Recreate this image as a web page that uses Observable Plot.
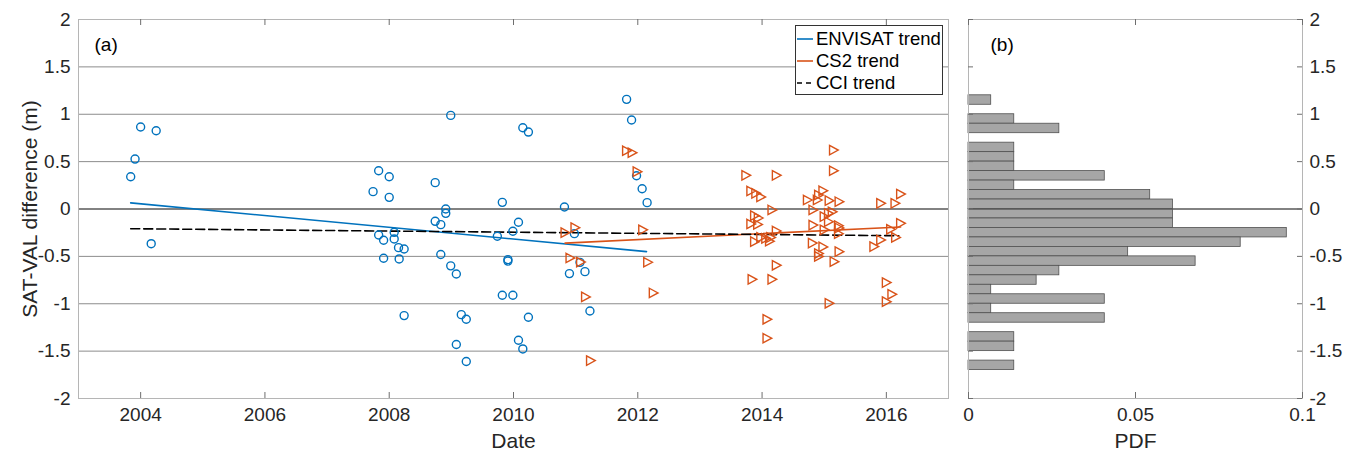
<!DOCTYPE html>
<html>
<head>
<meta charset="utf-8">
<script src="https://cdn.jsdelivr.net/npm/d3@7"></script>
<script src="https://cdn.jsdelivr.net/npm/@observablehq/plot@0.6"></script>
<style>
  body { margin: 0; background: #fff; font-family: "Liberation Sans", Arial, Helvetica, sans-serif; }
  #wrap { position: relative; width: 1359px; height: 456px; overflow: hidden; }
  #left, #right { position: absolute; top: 0; }
  #left { left: 0; }
  #right { left: 955px; }
  #legend { position: absolute; left: 795px; top: 25px; width: 148px; height: 70px; border: 1px solid #333;
            background: #fff; box-sizing: border-box; font-size: 18.5px; color: #000; }
  #legend .row { position: absolute; left: 0; height: 22px; display: flex; align-items: center; }
  #legend svg { display: block; margin-right: 2px; }
</style>
</head>
<body>
<div id="wrap">
  <div id="left"></div>
  <div id="right"></div>
  <div id="legend"></div>
</div>
<script>
// ---------------- data ----------------
const envYear = [2003.84, 2003.91, 2004.00, 2004.25, 2004.17,
  2007.74, 2007.83, 2008.00, 2008.00, 2007.83, 2007.91, 2008.08, 2008.08, 2008.15, 2008.24, 2007.91, 2008.16, 2008.24,
  2008.74, 2008.91, 2008.91, 2008.74, 2008.83, 2008.99, 2008.83, 2008.99, 2009.08, 2009.16, 2009.24, 2009.08, 2009.24,
  2009.82, 2009.74, 2009.99, 2010.08, 2010.15, 2010.24, 2009.91, 2009.91, 2009.82, 2009.99, 2010.24, 2010.08, 2010.15,
  2010.82, 2010.98, 2010.90, 2011.07, 2011.15, 2011.23,
  2011.82, 2011.90, 2011.98, 2012.07, 2012.15];
const envDiff = [0.34, 0.527, 0.865, 0.826, -0.366,
  0.183, 0.404, 0.34, 0.123, -0.274, -0.33, -0.246, -0.316, -0.408, -0.422, -0.52, -0.527, -1.125,
  0.278, 0.0, -0.046, -0.13, -0.165, 0.988, -0.48, -0.6, -0.686, -1.115, -1.164, -1.43, -1.61,
  0.07, -0.288, -0.235, -0.14, 0.858, 0.812, -0.534, -0.55, -0.91, -0.91, -1.143, -1.385, -1.477,
  0.021, -0.26, -0.682, -0.563, -0.661, -1.076,
  1.157, 0.939, 0.351, 0.214, 0.067];

const cs2Year = [2010.83, 2010.99, 2010.91, 2011.08, 2011.16, 2011.24, 2011.82, 2011.91, 2011.99, 2012.08, 2012.16, 2012.25,
  2013.74, 2014.23, 2013.82, 2013.90, 2013.98, 2014.16, 2013.88, 2013.94, 2013.82, 2013.93, 2014.23,
  2013.88, 2013.98, 2014.06, 2014.14, 2014.12, 2013.84, 2014.16, 2014.23, 2014.08, 2014.08,
  2015.15, 2015.15, 2014.98, 2014.91, 2014.73, 2014.89, 2015.08, 2015.24, 2014.82, 2015.13, 2015.07, 2015.00,
  2015.07, 2014.82, 2015.23, 2015.00, 2015.24, 2015.23, 2014.81, 2014.98, 2014.91, 2014.91, 2015.24, 2015.16, 2015.08,
  2015.91, 2016.14, 2016.23, 2016.23, 2016.07, 2016.15, 2015.91, 2015.80, 2016.00, 2016.09, 2016.00];
const cs2Diff = [-0.25, -0.197, -0.517, -0.56, -0.928, -1.60, 0.615, 0.594, 0.394, -0.22, -0.562, -0.886,
  0.355, 0.355, 0.19, 0.165, 0.127, -0.01, -0.07, -0.095, -0.158, -0.163, -0.232,
  -0.345, -0.30, -0.31, -0.30, -0.34, -0.742, -0.742, -0.594, -1.164, -1.364,
  0.622, 0.404, 0.193, 0.148, 0.095, 0.095, 0.088, 0.077, -0.01, -0.03, -0.045, -0.08,
  -0.134, -0.17, -0.176, -0.22, -0.20, -0.26, -0.36, -0.40, -0.47, -0.50, -0.45, -0.556, -0.995,
  0.06, 0.06, 0.158, -0.151, -0.214, -0.30, -0.327, -0.397, -0.777, -0.90, -0.978];

const envTrendYear = [2003.84, 2012.14];
const envTrendVal  = [0.065, -0.45];
const cs2TrendYear = [2010.83, 2016.23];
const cs2TrendVal  = [-0.36, -0.19];
const cciTrendYear = [2003.84, 2016.20];
const cciTrendVal  = [-0.208, -0.282];

// histogram (bin lower edge, upper edge, PDF)
const binLow  = [1.1, 0.9, 0.8, 0.6, 0.5, 0.4, 0.3, 0.2, 0.1, 0.0, -0.1, -0.2, -0.3, -0.4, -0.5, -0.6, -0.7, -0.8, -0.9, -1.0, -1.1, -1.2, -1.4, -1.5, -1.7];
const binHigh = [1.2, 1.0, 0.9, 0.7, 0.6, 0.5, 0.4, 0.3, 0.2, 0.1,  0.0, -0.1, -0.2, -0.3, -0.4, -0.5, -0.6, -0.7, -0.8, -0.9, -1.0, -1.1, -1.3, -1.4, -1.6];
const pdf     = [0.0068, 0.0137, 0.0272, 0.0137, 0.0137, 0.0137, 0.0408, 0.0137, 0.0544, 0.0612, 0.0612, 0.0612, 0.0953, 0.0815, 0.0478, 0.068, 0.0272, 0.0204, 0.0068, 0.0408, 0.0068, 0.0408, 0.0137, 0.0137, 0.0137];

const xTicks = [2004, 2006, 2008, 2010, 2012, 2014, 2016];
const yTicks = [-2, -1.5, -1, -0.5, 0, 0.5, 1, 1.5, 2];
const yGrid  = [-1.5, -1, -0.5, 0.5, 1, 1.5];
const pdfTicks = [0, 0.05, 0.1];

// ---------------- styles ----------------
const BLUE = "#0072BD", ORANGE = "#D95319";
const FONT = "'Liberation Sans', Arial, Helvetica, sans-serif";
const TXT = "#262626";

const envPts = d3.zip(envYear, envDiff).map(([x, y]) => ({x, y}));
const cs2Pts = d3.zip(cs2Year, cs2Diff).map(([x, y]) => ({x, y}));
const envTrend = d3.zip(envTrendYear, envTrendVal).map(([x, y]) => ({x, y}));
const cs2Trend = d3.zip(cs2TrendYear, cs2TrendVal).map(([x, y]) => ({x, y}));
const cciTrend = d3.zip(cciTrendYear, cciTrendVal).map(([x, y]) => ({x, y}));
const hist = binLow.map((lo, i) => ({lo, hi: binHigh[i], p: pdf[i]}));

const triRight = {
  draw(context, size) {
    const r = Math.sqrt(size / Math.PI);
    context.moveTo(-r * 0.85, -r);
    context.lineTo(r, 0);
    context.lineTo(-r * 0.85, r);
    context.closePath();
  }
};

const fmt = d => String(d);
const H = 456, MT = 19, MB = 58;
const innerH = H - MT - MB;

const left = Plot.plot({
  width: 955, height: H,
  marginLeft: 78, marginRight: 7, marginTop: MT, marginBottom: MB,
  style: {fontFamily: FONT, fontSize: "19px", color: TXT, background: "transparent"},
  x: {domain: [2003, 2017]},
  y: {domain: [-2, 2]},
  marks: [
    Plot.ruleY(yGrid, {y: d => d, stroke: "#8c8c8c", strokeWidth: 1}),
    Plot.ruleY([0], {y: d => d, stroke: "#595959", strokeWidth: 1.5}),
    Plot.frame({stroke: "#b5b5b5", strokeWidth: 1}),
    Plot.tickX(xTicks, {x: d => d, insetTop: innerH - 6, stroke: "#6e6e6e"}),
    Plot.tickX(xTicks, {x: d => d, insetBottom: innerH - 6, stroke: "#6e6e6e"}),
    Plot.axisX({ticks: xTicks, tickSize: 0, tickPadding: 9, tickFormat: d => String(d), label: null, fontSize: 19}),
    Plot.axisY({ticks: yTicks, tickSize: 0, tickPadding: 8, tickFormat: fmt, label: null, fontSize: 19}),
    Plot.line(envTrend, {x: "x", y: "y", stroke: BLUE, strokeWidth: 1.6}),
    Plot.line(cs2Trend, {x: "x", y: "y", stroke: ORANGE, strokeWidth: 1.6}),
    Plot.line(cciTrend, {x: "x", y: "y", stroke: "#000", strokeWidth: 1.6, strokeDasharray: "9,4"}),
    Plot.dot(envPts, {x: "x", y: "y", r: 4, stroke: BLUE, strokeWidth: 1.4, fill: "none"}),
    Plot.dot(cs2Pts, {x: "x", y: "y", r: 4.7, symbol: triRight, stroke: ORANGE, strokeWidth: 1.4, fill: "none"}),
    Plot.text(["(a)"], {frameAnchor: "top-left", textAnchor: "start", lineAnchor: "middle", dx: 16, dy: 25, fontSize: 19, fill: "#000"}),
    Plot.text(["Date"], {frameAnchor: "bottom", textAnchor: "middle", lineAnchor: "middle", dy: 43, fontSize: 21, fill: TXT}),
    Plot.text(["SAT-VAL difference (m)"], {frameAnchor: "left", rotate: -90, textAnchor: "middle", lineAnchor: "middle", dx: -48, fontSize: 21, fill: TXT})
  ]
});
document.getElementById("left").appendChild(left);

const innerW = 404 - 13 - 57;
const right = Plot.plot({
  width: 404, height: H,
  marginLeft: 13, marginRight: 57, marginTop: MT, marginBottom: MB,
  style: {fontFamily: FONT, fontSize: "19px", color: TXT, background: "transparent"},
  x: {domain: [0, 0.1]},
  y: {domain: [-2, 2]},
  marks: [
    Plot.rectX(hist, {x1: 0, x2: "p", y1: "lo", y2: "hi", fill: "#a6a6a6", stroke: "#505050", strokeWidth: 0.8}),
    Plot.ruleY([0], {y: d => d, stroke: "#595959", strokeWidth: 1.5}),
    Plot.frame({stroke: "#b5b5b5", strokeWidth: 1}),
    Plot.tickY(yTicks, {y: d => d, insetRight: innerW - 5, stroke: "#6e6e6e"}),
    Plot.tickY(yTicks, {y: d => d, insetLeft: innerW - 5, stroke: "#6e6e6e"}),
    Plot.tickX(pdfTicks, {x: d => d, insetTop: innerH - 6, stroke: "#6e6e6e"}),
    Plot.tickX(pdfTicks, {x: d => d, insetBottom: innerH - 6, stroke: "#6e6e6e"}),
    Plot.axisX({ticks: pdfTicks, tickSize: 0, tickPadding: 9, tickFormat: fmt, label: null, fontSize: 19}),
    Plot.axisY({anchor: "right", ticks: yTicks, tickSize: 0, tickPadding: 7, tickFormat: fmt, label: null, fontSize: 19}),
    Plot.text(["(b)"], {frameAnchor: "top-left", textAnchor: "start", lineAnchor: "middle", dx: 22, dy: 25, fontSize: 19, fill: "#000"}),
    Plot.text(["PDF"], {frameAnchor: "bottom", textAnchor: "middle", lineAnchor: "middle", dy: 43, fontSize: 21, fill: TXT})
  ]
});
document.getElementById("right").appendChild(right);

// ---------------- legend ----------------
const legendItems = [
  {label: "ENVISAT trend", color: BLUE, dash: null},
  {label: "CS2 trend", color: ORANGE, dash: null},
  {label: "CCI trend", color: "#000", dash: "5,4"}
];
const lg = document.getElementById("legend");
legendItems.forEach((it, i) => {
  const row = document.createElement("div");
  row.className = "row";
  row.style.top = (2 + i * 22) + "px";
  row.innerHTML = `<svg width="18" height="22"><line x1="1" x2="17" y1="11" y2="11" stroke="${it.color}" stroke-width="1.6" ${it.dash ? `stroke-dasharray="${it.dash}"` : ""}/></svg><span>${it.label}</span>`;
  lg.appendChild(row);
});
</script>
</body>
</html>
